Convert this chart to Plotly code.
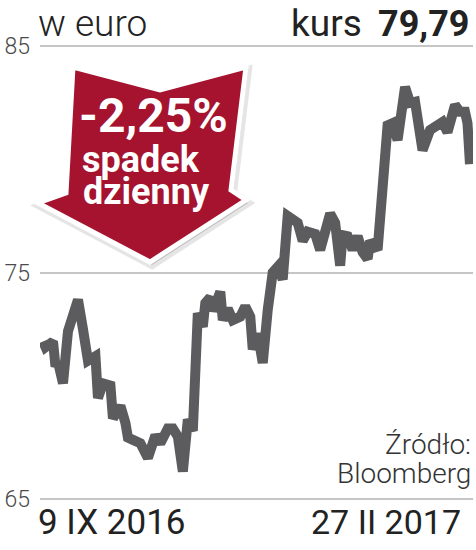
import pandas as pd
import plotly.graph_objects as go

# ---- data ----
start_date = "2016-09-09"
day_offsets = [0, 1, 4, 5, 6, 8, 10, 14, 16, 18, 21, 22, 24, 27, 28, 31, 33, 34, 36, 39,
               42, 45, 47, 50, 52, 54, 56, 58, 60, 62, 64, 65, 67, 68, 71, 72, 74, 76, 79, 81,
               83, 84, 86, 88, 90, 92, 94, 96, 98, 100, 102, 104, 106, 109, 111, 115, 117, 119, 120, 122,
               124, 126, 128, 130, 131, 134, 136, 138, 140, 142, 145, 147, 149, 150, 152, 155, 158, 160, 162, 165,
               167, 169, 170, 171]
prices = [71.95, 71.7, 71.95, 70.85, 71.05, 70.1, 72.4, 73.8, 72.5, 71.1, 71.3, 69.45, 70.1, 70.0, 68.55, 69.1, 68.35, 67.7, 67.6, 67.45,
          66.8, 67.8, 67.45, 68.1, 68.1, 67.75, 66.2, 68.5, 68.0, 73.2, 72.6, 73.65, 73.9, 73.3, 74.15, 72.9, 73.4, 72.9, 73.05, 73.5,
          73.05, 71.6, 72.3, 71.0, 73.35, 75.0, 75.25, 74.7, 77.5, 77.3, 77.2, 76.4, 76.8, 76.7, 76.0, 77.6, 77.2, 75.3, 76.65, 76.6,
          76.0, 76.6, 75.9, 75.6, 76.4, 76.0, 79.2, 81.5, 81.6, 80.85, 83.2, 82.5, 82.55, 81.95, 80.4, 81.3, 81.5, 81.65, 81.2, 82.4,
          82.1, 82.1, 81.6, 79.79]
y_ticks = [65, 75, 85]
start_label = "9 IX 2016"
end_label = "27 II 2017"
unit_label = "w euro"
price_label = "kurs"
price_value = "79,79"
change_label = "-2,25%"
change_text = ["spadek", "dzienny"]
source_lines = ["Źródło:", "Bloomberg"]

dates = pd.Timestamp(start_date) + pd.to_timedelta(day_offsets, unit="D")

# ---- layout geometry ----
W, H = 476, 550
ML, MR, MT, MB = 40, 3, 44, 49
PW, PH = W - ML - MR, H - MT - MB


def px(x):
    return (x - ML) / PW


def py(y):
    return (H - MB - y) / PH


FONT = "Roboto"
fig = go.Figure()
fig.add_trace(go.Scatter(
    x=dates, y=prices, mode="lines",
    line=dict(color="#5c5c5e", width=10, shape="linear"),
    hoverinfo="skip", showlegend=False,
))

x0 = pd.Timestamp(start_date) - pd.Timedelta(hours=29)
x1 = pd.Timestamp(start_date) + pd.Timedelta(days=day_offsets[-1]) + pd.Timedelta(hours=29)

fig.update_layout(
    width=W, height=H,
    margin=dict(l=ML, r=MR, t=MT, b=MB, pad=0),
    paper_bgcolor="white", plot_bgcolor="white",
    xaxis=dict(type="date", range=[x0, x1], showgrid=False, showticklabels=False,
               zeroline=False, showline=False, ticks=""),
    yaxis=dict(range=[64.9, 85.1], tickvals=y_ticks, ticktext=[str(v) for v in y_ticks],
               showgrid=True, gridcolor="#c6c6c6", gridwidth=2, zeroline=False,
               showline=False, ticks="", ticklabelstandoff=9,
               tickfont=dict(family=FONT, size=23, color="#4a4a4a", weight=300)),
    font=dict(family=FONT),
)

# ---- arrow badge ----
arrow_pts = [(73, 67), (160, 90), (246, 67), (231, 190), (246, 200), (150, 262),
             (38, 203), (66, 193)]


def path_of(pts, dx=0, dy=0):
    s = "M " + " L ".join(f"{px(x + dx):.5f},{py(y + dy):.5f}" for x, y in pts)
    return s + " Z"


fig.add_shape(type="path", xref="paper", yref="paper", path=path_of(arrow_pts, 2, 3),
              fillcolor="rgba(0,0,0,0.16)", line=dict(color="rgba(0,0,0,0.10)", width=8),
              layer="above")
fig.add_shape(type="path", xref="paper", yref="paper", path=path_of(arrow_pts),
              fillcolor="#a5132f", line=dict(color="white", width=5), layer="above")

annos = []
annos.append(dict(text=change_label, x=px(78), y=py(116), xanchor="left", yanchor="middle",
                  font=dict(family=FONT, size=48, color="white", weight=700)))
annos.append(dict(text=change_text[0], x=px(81), y=py(160), xanchor="left", yanchor="middle",
                  font=dict(family=FONT, size=36, color="white", weight=700)))
annos.append(dict(text=change_text[1], x=px(82), y=py(192), xanchor="left", yanchor="middle",
                  font=dict(family=FONT, size=36, color="white", weight=700)))

# ---- header texts ----
annos.append(dict(text=unit_label, x=px(37), y=py(24), xanchor="left", yanchor="middle",
                  font=dict(family=FONT, size=37, color="#222222", weight=300)))
annos.append(dict(text=price_label, x=px(363), y=py(24), xanchor="right", yanchor="middle",
                  font=dict(family=FONT, size=37, color="#222222", weight=400)))
annos.append(dict(text=price_value, x=px(470), y=py(24), xanchor="right", yanchor="middle",
                  font=dict(family=FONT, size=36, color="#222222", weight=700)))

# ---- bottom date labels ----
annos.append(dict(text=start_label, x=px(37), y=py(522), xanchor="left", yanchor="middle",
                  font=dict(family=FONT, size=35, color="#222222", weight=400)))
annos.append(dict(text=end_label, x=px(462), y=py(522), xanchor="right", yanchor="middle",
                  font=dict(family=FONT, size=34, color="#222222", weight=400)))

# ---- source ----
annos.append(dict(text=source_lines[0], x=px(472), y=py(444), xanchor="right", yanchor="middle",
                  font=dict(family=FONT, size=28, color="#333333", weight=300)))
annos.append(dict(text=source_lines[1], x=px(472), y=py(473), xanchor="right", yanchor="middle",
                  font=dict(family=FONT, size=28, color="#333333", weight=300)))

for a in annos:
    a.update(xref="paper", yref="paper", showarrow=False, borderpad=0)
fig.update_layout(annotations=annos)

fig.write_html("out.html",
               config={"displayModeBar": False, "staticPlot": True},
               post_script="document.body.style.margin='0';document.body.style.overflow='hidden';")
